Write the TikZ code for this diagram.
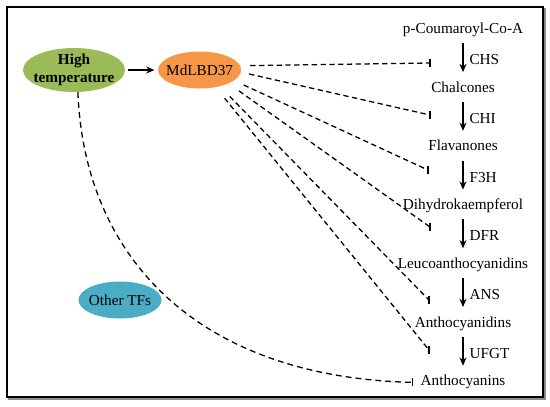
\documentclass[tikz,border=0pt]{standalone}
\usepackage{fontspec}
\setmainfont{Liberation Serif}
\usepackage{tikz}
\usetikzlibrary{positioning,shapes.geometric,arrows.meta}
\definecolor{heatgreen}{HTML}{9BBB59}
\definecolor{lbdorange}{HTML}{F79646}
\definecolor{tfblue}{HTML}{4BACC6}
\definecolor{framegray}{HTML}{8C8C8C}

\begin{document}
\begin{tikzpicture}[
  x=0.03cm, y=-0.03cm,
  font=\fontsize{13}{15.5}\selectfont,
  node distance=1.326cm and 0.98cm,
  tfnode/.style={ellipse,inner xsep=-10pt,inner ysep=-6pt,align=center,
                 minimum width=2.49cm,minimum height=1.11cm},
  met/.style={inner sep=0pt,text height=9pt,text depth=3pt},
  enz/.style={inner sep=0pt,text height=9pt,text depth=0pt,right=5pt},
  flow/.style={-{Stealth[length=7pt,width=6pt]},line width=1.2pt,
               shorten <=5pt,shorten >=8pt},
  inh/.style={dash pattern=on 4.5pt off 3pt,line width=1.1pt},
  tee/.style={line width=1.1pt}
]
  \useasboundingbox (0,0) rectangle (550,406);
  \draw[framegray,line width=1.6pt] (9,9) rectangle (545,399);
  \draw[fill=white,line width=1.3pt] (7,7) rectangle (543,397);

  \node[tfnode,fill=heatgreen,minimum width=3.06cm,minimum height=1.32cm,
        font=\fontsize{13}{15.5}\selectfont\bfseries] (ht) at (74,70) {High\\temperature};
  \node[tfnode,fill=lbdorange,right=of ht] (md) {MdLBD37};
  \node[tfnode,fill=tfblue] (otf) at (120,300) {Other TFs};

  \node[met] (m1) at (463,30) {p-Coumaroyl-Co-A};
  \node[met,below=of m1] (m2) {Chalcones};
  \node[met,below=of m2] (m3) {Flavanones};
  \node[met,below=of m3] (m4) {Dihydrokaempferol};
  \node[met,below=of m4] (m5) {Leucoanthocyanidins};
  \node[met,below=of m5] (m6) {Anthocyanidins};
  \node[met,below=of m6] (m7) {Anthocyanins};

  \draw[flow] (m1) -- node[enz] {CHS} (m2);
  \draw[flow] (m2) -- node[enz] {CHI} (m3);
  \draw[flow] (m3) -- node[enz] {F3H} (m4);
  \draw[flow] (m4) -- node[enz] {DFR} (m5);
  \draw[flow] (m5) -- node[enz] {ANS} (m6);
  \draw[flow] (m6) -- node[enz] {UFGT} (m7);

  \draw[-{Stealth[length=7pt,width=6pt]},line width=1.3pt,
        shorten <=2pt,shorten >=3pt] (ht) -- (md);

  \coordinate (iCHS) at (430,63);
  \coordinate (iCHI) at (430,115);
  \coordinate (iF3H) at (428,170);
  \coordinate (iDFR) at (430,227);
  \coordinate (iANS) at (429,300);
  \coordinate (iUFGT) at (429,350);
  \coordinate (iAC) at ([xshift=-7pt]m7.west);

  \draw[inh,shorten <=8.5pt] (md.6) -- (iCHS);
  \draw[inh,shorten <=7pt] (md.-3.5) -- (iCHI);
  \draw[inh,shorten <=9pt] (md.-17.6) -- (iF3H);
  \draw[inh,shorten <=11pt] (md.-25) -- (iDFR);
  \draw[inh,shorten <=12pt] (md.-39.5) -- (iANS);
  \draw[inh,shorten <=12pt] (md.-47) -- (iUFGT);
  \draw[inh,dash pattern=on 5pt off 3.5pt] (ht.-80) .. controls (84,255) and (195,377) .. (iAC);

  \foreach \c in {iCHS,iCHI,iF3H,iDFR,iANS,iUFGT,iAC}
    \draw[tee] ([yshift=-3.5pt]\c) -- ([yshift=3.5pt]\c);
\end{tikzpicture}
\end{document}
